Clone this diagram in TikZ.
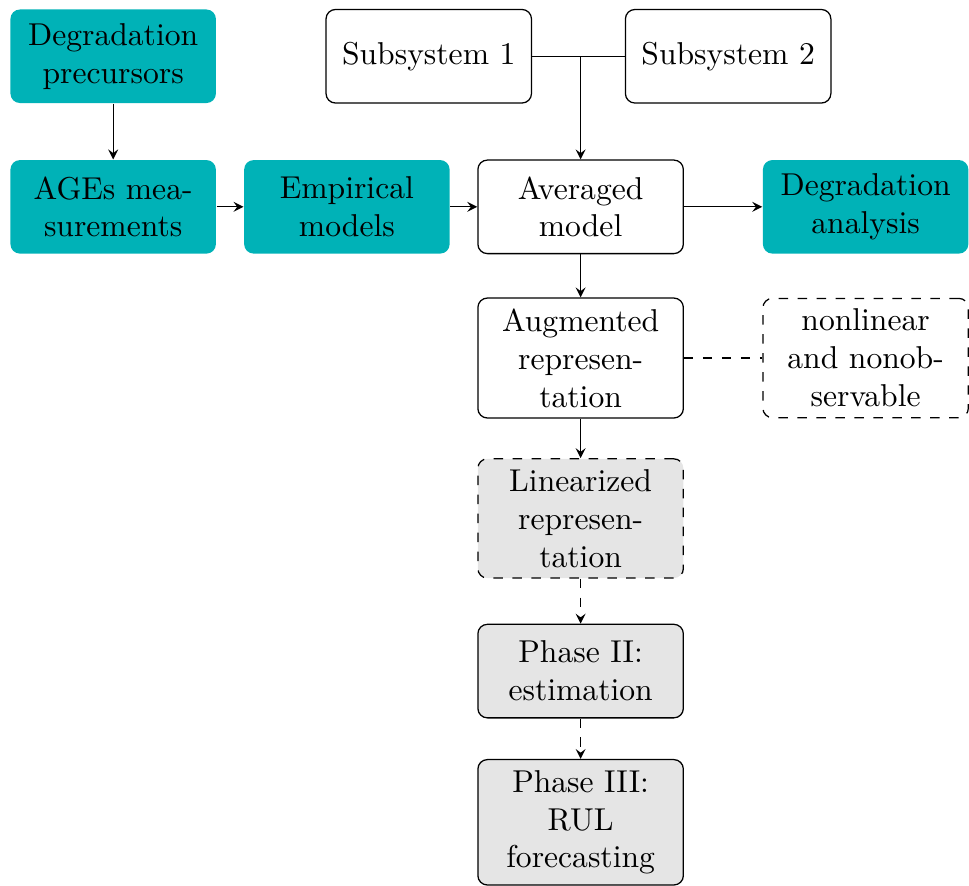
\documentclass[tikz,border=0pt]{standalone}
\usepackage{amsmath}
\usepackage{tikz}
\usetikzlibrary{positioning,calc}
\definecolor{agecyan}{RGB}{0,178,183}

\begin{document}
\begin{tikzpicture}[node distance=0.5cm and 0.3cm,
box/.style={rectangle,rounded corners=3pt,align=center,text width=2.05cm,minimum height=1.04cm},
plain/.style={box,draw},
filled/.style={box,fill=agecyan},
phase/.style={box,draw,fill=gray!20},
link/.style={-stealth}]
\node[filled] (prec) {Degradation\\precursors};
\node[filled,below=0.62cm of prec] (ages) {AGEs mea-\\surements};
\node[filled,right=of ages] (emp) {Empirical\\models};
\node[plain,right=of emp] (avg) {Averaged\\model};
\node[filled,right=0.87cm of avg] (anal) {Degradation\\analysis};
\node[plain,right=1.21cm of prec] (sub1) {Subsystem 1};
\node[plain,right=1.03cm of sub1] (sub2) {Subsystem 2};
\node[plain,below=0.48cm of avg] (aug) {Augmented\\represen-\\tation};
\node[plain,dashed,right=0.87cm of aug] (nonlin) {nonlinear\\and nonob-\\servable};
\node[phase,dashed,below=0.44cm of aug] (lin) {Linearized\\represen-\\tation};
\node[phase,below=of lin] (ph2) {Phase II:\\estimation};
\node[phase,below=0.45cm of ph2] (ph3) {Phase III:\\RUL\\forecasting};
\coordinate (join) at (avg.north |- sub1.east);

\draw (sub1.east) -- (sub2.west);
\draw[link] (join) -- (avg);
\draw[link] (prec) -- (ages);
\draw[link] (ages) -- (emp);
\draw[link] (emp) -- (avg);
\draw[link] (avg) -- (anal);
\draw[link] (avg) -- (aug);
\draw[dashed] (aug) -- (nonlin);
\draw[link] (aug) -- (lin);
\draw[link,dashed] (lin) -- (ph2);
\draw[link,dashed] (ph2) -- (ph3);

\useasboundingbox ([xshift=-3.1pt,yshift=2.8pt]prec.north west) rectangle ++(302.8pt,-274.7pt);
\end{tikzpicture}
\end{document}
